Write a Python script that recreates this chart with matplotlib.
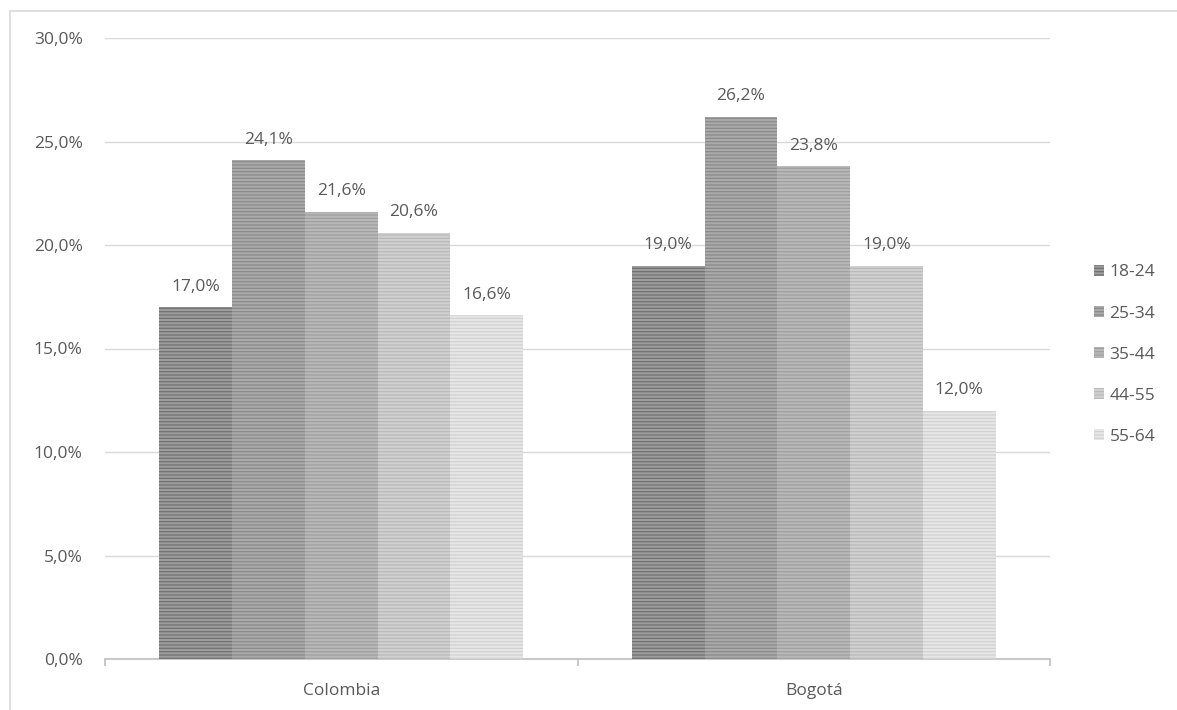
import numpy as np
import matplotlib
matplotlib.use("Agg")
import matplotlib.pyplot as plt
from matplotlib.patches import Rectangle
import matplotlib.ticker as ticker

# ===== DADOS =====
regioes = ["Colombia", "Bogotá"]
faixas = ["18-24", "25-34", "35-44", "44-55", "55-64"]
valores = [
    [17.0, 19.0],   # 18-24
    [24.1, 26.2],   # 25-34
    [21.6, 23.8],   # 35-44
    [20.6, 19.0],   # 44-55
    [16.6, 12.0],   # 55-64
]
cores_fundo = ["#9c9c9c", "#aaaaaa", "#b8b8b8", "#d0d0d0", "#e6e6e6"]
cores_linha = ["#727272", "#8a8a8a", "#a0a0a0", "#bababa", "#d2d2d2"]

TXT = "#595959"
FS = 12.5
plt.rcParams["font.family"] = ["Open Sans", "DejaVu Sans"]
plt.rcParams["hatch.linewidth"] = 0.9

fig = plt.figure(figsize=(11.77, 7.10), dpi=100)
ax = fig.add_axes([105 / 1177, 1 - 659 / 710, 945 / 1177, 621 / 710])

# borda externa
fig.patches.append(Rectangle((10 / 1177, -0.1), 1.2, 1 - 11 / 710 + 0.1,
                             transform=fig.transFigure, fill=False,
                             edgecolor="#d9d9d9", linewidth=1.2))

x = np.arange(len(regioes))
largura = 0.77 / len(faixas)
for i, faixa in enumerate(faixas):
    pos = x - 0.385 + largura * (i + 0.5)
    barras = ax.bar(pos, valores[i], width=largura, color=cores_fundo[i],
                    edgecolor=cores_linha[i], linewidth=0, hatch="-----",
                    label=faixa, zorder=3)
    for b, v in zip(barras, valores[i]):
        ax.annotate(f"{v:.1f}%".replace(".", ","),
                    (b.get_x() + b.get_width() / 2, v),
                    xytext=(0, 9), textcoords="offset points",
                    ha="center", va="bottom", fontsize=FS, color=TXT)

ax.set_xlim(-0.5, 1.5)
ax.set_ylim(0, 30)
ax.yaxis.set_major_locator(ticker.MultipleLocator(5))
ax.yaxis.set_major_formatter(ticker.FuncFormatter(lambda v, p: f"{v:.1f}%".replace(".", ",")))
ax.grid(axis="y", color="#d9d9d9", linewidth=1, zorder=0)
ax.set_axisbelow(True)

for s in ["top", "right", "left"]:
    ax.spines[s].set_visible(False)
ax.spines["bottom"].set_color("#bfbfbf")
ax.spines["bottom"].set_linewidth(1.2)

ax.set_xticks(x)
ax.set_xticklabels(regioes)
ax.xaxis.set_minor_locator(ticker.FixedLocator([-0.5, 0.5, 1.5]))
ax.tick_params(axis="x", which="major", length=0, pad=17, labelsize=FS, labelcolor=TXT)
ax.tick_params(axis="x", which="minor", length=5, color="#bfbfbf", width=1.2)
ax.tick_params(axis="y", length=0, pad=16, labelsize=FS, labelcolor=TXT)

leg = ax.legend(loc="center left", bbox_to_anchor=(1.03, 0.49), frameon=False,
                fontsize=FS, labelcolor=TXT, handlelength=0.6, handleheight=0.6,
                handletextpad=0.3, labelspacing=1.45)

fig.savefig("out.png", dpi=100)
